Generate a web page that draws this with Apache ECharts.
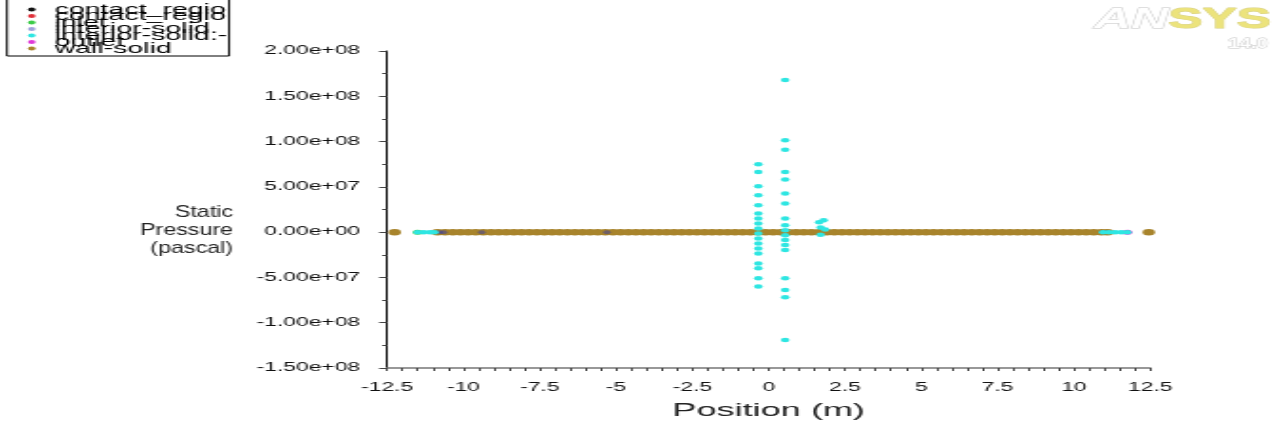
<!DOCTYPE html>
<html>
<head>
<meta charset="utf-8">
<script src="https://cdn.jsdelivr.net/npm/echarts@6/dist/echarts.min.js"></script>
<style>
  html, body { margin: 0; padding: 0; background: #fff; overflow: hidden; }
  #wrap { width: 1279px; height: 427px; overflow: hidden; }
  #main { height: 427px; transform-origin: 0 0; }
</style>
</head>
<body>
<div id="wrap"><div id="main"></div></div>
<script>
// the source picture is a Fluent plot stretched sideways, so the chart is drawn narrow and scaled
var SX = 1.9;
var W = Math.round(1279 / SX);

var seriesNames = ['contact_region-1', 'contact_region-2', 'inlet', 'interior-solid.1', 'interior-solid.2', 'outlet', 'wall-solid'];
var legendLabels = ['contact_regio', 'contact_regio', 'inlet', 'interior-solid.', 'interior-solid.-', 'outlet', 'wall-solid'];
var seriesColors = ['#111111', '#e0303a', '#3ccc48', '#2a34b0', '#2ee6e2', '#e03ad8', '#a8842c'];

// position (m) / static pressure (Pa)
var contact1X = [-0.34], contact1Y = [0];
var contact2X = [0.54], contact2Y = [0];
var inletX = [-11.5], inletY = [0];
var outletX = [11.75], outletY = [0];

var wallSolidX = [-12.25,
  -10.85, -10.6, -10.35, -10.1, -9.85, -9.6, -9.35, -9.1, -8.85, -8.6, -8.35, -8.1, -7.85, -7.6, -7.35, -7.1,
  -6.85, -6.6, -6.35, -6.1, -5.85, -5.6, -5.35, -5.1, -4.85, -4.6, -4.35, -4.1, -3.85, -3.6, -3.35, -3.1,
  -2.85, -2.6, -2.35, -2.1, -1.85, -1.6, -1.35, -1.1, -0.85, -0.6, -0.35, -0.1, 0.15, 0.4, 0.65, 0.9,
  1.15, 1.4, 1.65, 1.9, 2.15, 2.4, 2.65, 2.9, 3.15, 3.4, 3.65, 3.9, 4.15, 4.4, 4.65, 4.9, 5.15, 5.4,
  5.65, 5.9, 6.15, 6.4, 6.65, 6.9, 7.15, 7.4, 7.65, 7.9, 8.15, 8.4, 8.65, 8.9, 9.15, 9.4, 9.65, 9.9,
  10.15, 10.4, 10.65, 10.9, 11.1,
  12.45];
var wallSolidY = 0;

var interior1X = [-10.8, -10.65, -9.4, -5.3, 10.95, 11.05];
var interior1Y = [0, 0, 0, 0, 0, 0];

var interior2X = [
  -11.5, -11.3, -11.1, -10.95, 10.95, 11.15, 11.35, 11.55, 11.75,
  -0.34, -0.34, -0.34, -0.34, -0.34, -0.34, -0.34, -0.34, -0.34, -0.34, -0.34, -0.34, -0.34, -0.34, -0.34, -0.34, -0.34, -0.34,
  0.54, 0.54, 0.54, 0.54, 0.54, 0.54, 0.54, 0.54, 0.54, 0.54, 0.54, 0.54, 0.54, 0.54, 0.54, 0.54, 0.54, 0.54,
  1.65, 1.8, 1.7, 1.85, 1.7
];
var interior2Y = [
  0, 0, 0, 0, 0, 0, 0, 0, 0,
  7.5e7, 6.65e7, 5.07e7, 4.08e7, 2.98e7, 2.06e7, 1.51e7, 0.96e7, 0.4e7, -0.15e7, -0.7e7, -1.25e7, -1.8e7, -2.35e7, -3.45e7, -4.0e7, -5.1e7, -6.0e7,
  1.68e8, 1.014e8, 9.1e7, 6.65e7, 5.8e7, 4.27e7, 3.16e7, 1.5e7, 0.77e7, 0.22e7, -0.33e7, -0.88e7, -1.43e7, -1.98e7, -5.1e7, -6.4e7, -7.2e7, -1.19e8,
  1.1e7, 1.3e7, 0.5e7, 0.3e7, -0.3e7
];

function pairs(xs, ys) {
  return xs.map(function (x, i) { return [x, Array.isArray(ys) ? ys[i] : ys]; });
}
function sci(v) {
  if (v === 0) return '0.00e+00';
  var e = Math.floor(Math.log10(Math.abs(v)) + 1e-9);
  var m = v / Math.pow(10, e);
  var ee = Math.abs(e) < 10 ? '0' + Math.abs(e) : '' + Math.abs(e);
  return m.toFixed(2) + 'e' + (e < 0 ? '-' : '+') + ee;
}
function px(x) { return x / SX; }

var el = document.getElementById('main');
el.style.width = W + 'px';
el.style.transform = 'scaleX(' + (1279 / W) + ')';
var chart = echarts.init(el, null, {width: W, height: 427});

var font = 'Liberation Sans, Arial, sans-serif';
var dataSets = [
  pairs(contact1X, contact1Y), pairs(contact2X, contact2Y), pairs(inletX, inletY),
  pairs(interior1X, interior1Y), pairs(interior2X, interior2Y), pairs(outletX, outletY),
  pairs(wallSolidX, wallSolidY)
];
var zOrder = [1, 1, 1, 3, 4, 1, 2];
var sizes = [5, 5, 5, 4, 4.5, 5, 6.5];

var option = {
  backgroundColor: '#fff',
  animation: false,
  legend: {
    orient: 'vertical',
    left: px(7),
    top: -1,
    padding: [3, 1, 0, 11],
    itemGap: -8.5,
    itemWidth: 14,
    itemHeight: 4,
    icon: 'circle',
    borderColor: '#000',
    borderWidth: 1,
    data: seriesNames,
    formatter: function (name) { return legendLabels[seriesNames.indexOf(name)]; },
    textStyle: {fontFamily: font, fontSize: 15, color: '#000'}
  },
  graphic: [
    {
      type: 'text', x: px(1094), y: 5, scaleX: 0.9,
      style: {
        text: '{a|AN}{b|SYS}',
        rich: {
          a: {fontFamily: font, fontSize: 30, fontWeight: 'bold', fontStyle: 'italic', fill: '#fff', stroke: '#c4c4c4', lineWidth: 1},
          b: {fontFamily: font, fontSize: 30, fontWeight: 'bold', fill: '#ece37c', stroke: '#d6cf80', lineWidth: 1}
        }
      }
    },
    {
      type: 'text', x: px(1228), y: 36, scaleX: 0.72,
      style: {text: '14.0', fontFamily: font, fontSize: 15, fontWeight: 'bold', fill: '#fff', stroke: '#c4c4c4', lineWidth: 1}
    },
    {
      // y axis title, right-aligned beside the tick labels
      type: 'text', x: px(233), y: 230, scaleX: 0.72,
      style: {
        text: 'Static\nPressure\n(pascal)', fontFamily: font, fontSize: 17, lineHeight: 18,
        fill: '#222', align: 'right', verticalAlign: 'middle'
      }
    }
  ],
  grid: {left: px(387), right: W - px(1150), top: 51, bottom: 59},
  xAxis: {
    type: 'value', min: -12.5, max: 12.5, interval: 2.5,
    name: 'Position (m)', nameLocation: 'middle', nameGap: 33,
    nameTextStyle: {fontFamily: font, fontSize: 19, color: '#222'},
    axisLine: {onZero: false, lineStyle: {color: '#777', width: 1.5}},
    axisTick: {length: 3, lineStyle: {color: '#444'}},
    minorTick: {show: true, splitNumber: 5, length: 3, lineStyle: {color: '#444'}},
    splitLine: {show: false},
    axisLabel: {fontFamily: font, fontSize: 12, color: '#111', margin: 14}
  },
  yAxis: {
    type: 'value', min: -1.5e8, max: 2e8, interval: 5e7,
    axisLine: {onZero: false, lineStyle: {color: '#000', width: 1}},
    axisTick: {length: px(8), lineStyle: {color: '#444'}},
    minorTick: {show: true, splitNumber: 2, length: px(5), lineStyle: {color: '#444'}},
    splitLine: {show: false},
    axisLabel: {fontFamily: font, fontSize: 12, color: '#111', margin: px(27), formatter: sci}
  },
  series: seriesNames.map(function (name, i) {
    return {
      name: name,
      type: 'scatter',
      z: zOrder[i],
      symbolSize: sizes[i],
      itemStyle: {color: seriesColors[i], opacity: i === 3 ? 0.45 : 1},
      data: dataSets[i]
    };
  })
};
chart.setOption(option);
</script>
</body>
</html>
